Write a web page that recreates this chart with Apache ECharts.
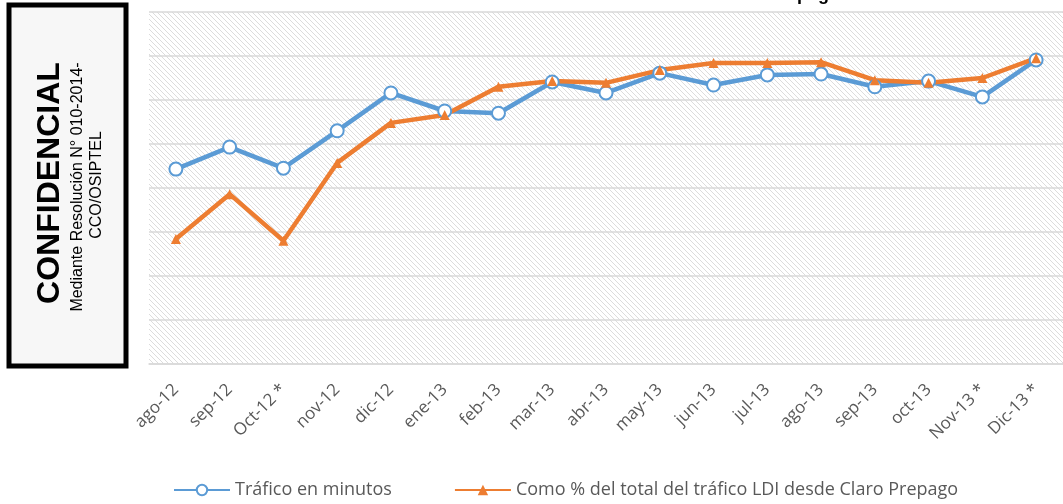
<!DOCTYPE html>
<html>
<head>
<meta charset="utf-8">
<title>Tráfico LDI Claro Prepago</title>
<script src="https://cdn.jsdelivr.net/npm/echarts@6/dist/echarts.min.js"></script>
<style>
  html, body { margin: 0; padding: 0; background: #fff; }
  #chart { width: 1063px; height: 504px; }
</style>
</head>
<body>
<div id="chart"></div>
<script>
// categories (months)
const months = ['ago-12', 'sep-12', 'Oct-12 *', 'nov-12', 'dic-12', 'ene-13', 'feb-13', 'mar-13', 'abr-13',
  'may-13', 'jun-13', 'jul-13', 'ago-13', 'sep-13', 'oct-13', 'Nov-13 *', 'Dic-13 *']
// values (y axis is redacted, so relative units 0..8)
const traficoMinutos = [4.43, 4.93, 4.45, 5.30, 6.16, 5.75, 5.70, 6.41, 6.16, 6.61, 6.34, 6.57, 6.59, 6.30, 6.43, 6.07, 6.91]
const pctTotal = [2.84, 3.86, 2.80, 4.57, 5.48, 5.66, 6.30, 6.43, 6.39, 6.68, 6.84, 6.84, 6.86, 6.45, 6.39, 6.50, 6.95]
const seriesNames = ['Tráfico en minutos', 'Como % del total del tráfico LDI desde Claro Prepago']

const blue = '#5b9bd5'
const orange = '#ed7d31'
const grey = '#595959'
const gridGrey = '#d9d9d9'

// diagonal hatch for the plot background
function hatch() {
  const s = 5
  const c = document.createElement('canvas')
  c.width = s
  c.height = s
  const ctx = c.getContext('2d')
  ctx.fillStyle = '#ffffff'
  ctx.fillRect(0, 0, s, s)
  ctx.strokeStyle = '#dcdcdc'
  ctx.lineWidth = 1
  for (let k = -1; k <= 1; k++) {
    ctx.beginPath()
    ctx.moveTo(k * s, 0)
    ctx.lineTo(k * s + s, s)
    ctx.stroke()
  }
  return c
}

const chart = echarts.init(document.getElementById('chart'))

chart.setOption({
  animation: false,
  title: {
    text: 'Tráfico LDI desde Claro Prepago',
    right: 218,
    top: -19,
    textStyle: { fontFamily: 'Liberation Sans', fontSize: 18, fontWeight: 'bold', color: '#000' }
  },
  grid: {
    left: 149,
    top: 12,
    width: 924,
    height: 352,
    show: true,
    borderWidth: 0,
    backgroundColor: { image: hatch(), repeat: 'repeat' }
  },
  legend: {
    bottom: 0,
    left: 168,
    itemWidth: 56,
    itemHeight: 13,
    itemGap: 62,
    textStyle: { fontFamily: 'Open Sans', fontSize: 18, color: grey },
    data: seriesNames
  },
  xAxis: {
    type: 'category',
    data: months,
    boundaryGap: true,
    axisLine: { lineStyle: { color: gridGrey, width: 1.5 } },
    axisTick: { show: false },
    axisLabel: {
      rotate: 45,
      interval: 0,
      margin: 23,
      fontFamily: 'Open Sans',
      fontSize: 17,
      color: grey
    }
  },
  yAxis: {
    type: 'value',
    min: 0,
    max: 8,
    interval: 1,
    axisLabel: { show: false },
    axisLine: { show: false },
    axisTick: { show: false },
    splitLine: { lineStyle: { color: gridGrey, width: 1.5 } }
  },
  series: [{
    name: seriesNames[0],
    type: 'line',
    data: traficoMinutos,
    symbol: 'emptyCircle',
    symbolSize: 13,
    lineStyle: { color: blue, width: 4.5 },
    itemStyle: { color: blue, borderWidth: 3 }
  }, {
    name: seriesNames[1],
    type: 'line',
    data: pctTotal,
    symbol: 'triangle',
    symbolSize: 10,
    lineStyle: { color: orange, width: 4.5 },
    itemStyle: { color: orange }
  }],
  graphic: [{
    type: 'rect',
    shape: { x: 9, y: 5, width: 117, height: 361 },
    style: { fill: '#f7f7f7', stroke: '#000', lineWidth: 5 }
  }, {
    type: 'text',
    x: 50,
    y: 183,
    rotation: Math.PI / 2,
    style: {
      text: 'CONFIDENCIAL',
      fontFamily: 'Liberation Sans',
      fontWeight: 'bold',
      fontSize: 32,
      fill: '#000',
      textAlign: 'center',
      textVerticalAlign: 'middle'
    }
  }, {
    type: 'text',
    x: 78,
    y: 187,
    rotation: Math.PI / 2,
    style: {
      text: 'Mediante Resolución N° 010-2014-',
      fontFamily: 'Liberation Sans',
      fontSize: 16,
      fill: '#000',
      textAlign: 'center',
      textVerticalAlign: 'middle'
    }
  }, {
    type: 'text',
    x: 97,
    y: 185,
    rotation: Math.PI / 2,
    style: {
      text: 'CCO/OSIPTEL',
      fontFamily: 'Liberation Sans',
      fontSize: 16,
      fill: '#000',
      textAlign: 'center',
      textVerticalAlign: 'middle'
    }
  }]
})
</script>
</body>
</html>
